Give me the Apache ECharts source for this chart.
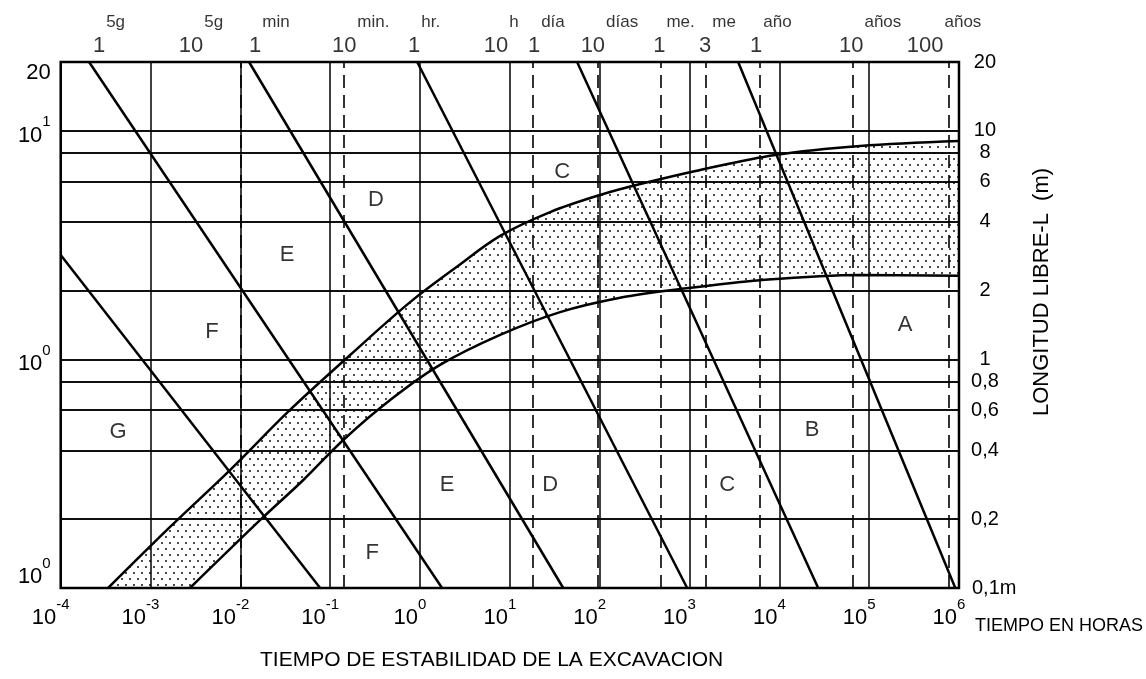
<!DOCTYPE html>
<html><head><meta charset="utf-8">
<script src="https://cdn.jsdelivr.net/npm/echarts@6/dist/echarts.min.js"></script>
<style>html,body{margin:0;padding:0;background:#fff}#c{width:1146px;height:679px}</style>
</head><body><div id="c"></div>
<script>
const FONT = '"Liberation Sans", Arial, sans-serif';

// ---------- data ----------
const xDecades = [1e-4, 1e-3, 1e-2, 1e-1, 1, 10, 100, 1e3, 1e4, 1e5, 1e6];
const xExponents = ['-4', '-3', '-2', '-1', '0', '1', '2', '3', '4', '5', '6'];
const yTickValues = [0.1, 1, 10, 20];
const yTickTexts = ['10|0', '10|0', '10|1', '20|'];
const gridLengths = [10, 8, 6, 4, 2, 1, 0.8, 0.6, 0.4, 0.2];
const rightLabelValues = [20, 10, 8, 6, 4, 2, 1, 0.8, 0.6, 0.4, 0.2, 0.1];
const rightLabelTexts = ['20', '10', '8', '6', '4', '2', '1', '0,8', '0,6', '0,4', '0,2', '0,1m'];
const dashedTimes = [2.6e-4, 2.9e-3, 0.015, 0.143, 18.2, 96, 484, 1535, 6120, 66400, 777000];
const topLabelTimes = [2.67e-4, 2.82e-3, 0.0146, 0.143, 0.86, 7.0, 18.6, 84, 461, 1496, 5530, 63100, 420000];
const topNumbers = ['1', '10', '1', '10', '1', '10', '1', '10', '1', '3', '1', '10', '100'];
const topUnits = ['5g', '5g', 'min', 'min.', 'hr.', 'h', 'día', 'días', 'me.', 'me', 'año', 'años', 'años'];

// boundary lines between classes (start point / end point)
const diagStartT = [1e-4, 2.07e-4, 0.0125, 0.93, 56.1, 3480];
const diagStartL = [2.86, 20, 20, 20, 20, 20];
const diagEndT = [0.0773, 1.76, 39.3, 942, 27100, 9.1e5];
const diagEndL = [0.1, 0.1, 0.1, 0.1, 0.1, 0.1];

// band limits
const upperT = [3.37e-4, 1.65e-3, 7.67e-3, 0.0357, 0.1667, 0.776, 2.46, 7.8, 28.1, 101, 283, 1316, 9000, 79400, 1e6];
const upperL = [0.1, 0.185, 0.328, 0.601, 1.045, 1.78, 2.51, 3.47, 4.41, 5.24, 5.85, 6.74, 7.84, 8.58, 9.02];
const lowerT = [2.75e-3, 0.01746, 0.0499, 0.139, 0.465, 1.67, 7.8, 36.3, 169, 787, 6120, 79400, 1e6];
const lowerL = [0.1, 0.202, 0.296, 0.443, 0.664, 0.946, 1.28, 1.61, 1.86, 2.03, 2.22, 2.34, 2.32];

// class letters
const letters = ['G', 'F', 'E', 'D', 'C', 'A', 'B', 'C', 'D', 'E', 'F'];
const letterT = [4.35e-4, 4.84e-3, 0.0331, 0.324, 38.2, 2.52e5, 2.32e4, 2630, 28.1, 2.0, 0.293];
const letterL = [0.48, 1.32, 2.86, 4.98, 6.6, 1.41, 0.49, 0.282, 0.282, 0.282, 0.142];

// ---------- helpers ----------
const mctx = document.createElement('canvas').getContext('2d');
function textW(s, size) { mctx.font = size + 'px ' + FONT; return mctx.measureText(s).width; }

const pc = document.createElement('canvas');
pc.width = 8; pc.height = 12;
const pg = pc.getContext('2d');
pg.fillStyle = '#111';
pg.beginPath(); pg.arc(2, 3, 1.0, 0, Math.PI * 2); pg.fill();
pg.beginPath(); pg.arc(6, 9, 1.0, 0, Math.PI * 2); pg.fill();

const supRich = {
  b: { fontSize: 22, padding: [10, 0, 0, 0], fontFamily: FONT, color: '#000' },
  s: { fontSize: 15, verticalAlign: 'top', fontFamily: FONT, color: '#000' },
  p: { fontSize: 22, fontFamily: FONT, color: '#000' }
};

function yLabel(v) {
  let best = 0;
  yTickValues.forEach((t, i) => { if (Math.abs(Math.log10(t) - Math.log10(v)) < 1e-6) best = i; });
  const parts = yTickTexts[best].split('|');
  return parts[1] ? '{b|' + parts[0] + '}{s|' + parts[1] + '}' : '{p|' + parts[0] + '}';
}
function xLabel(v) {
  let idx = 0;
  xDecades.forEach((t, i) => { if (Math.abs(Math.log10(t) - Math.log10(v)) < 1e-6) idx = i; });
  return '{b|10}{s|' + xExponents[idx] + '}';
}

const black = '#000';
const markData = [];
gridLengths.forEach(v => markData.push({ yAxis: v, lineStyle: { type: 'solid', width: 1.5, color: black } }));
dashedTimes.forEach(t => markData.push({ xAxis: t, lineStyle: { type: [13, 7], width: 1.6, color: black } }));
rightLabelValues.forEach((v, i) => {
  const last = rightLabelTexts[i].length > 3;
  markData.push({
    yAxis: v,
    lineStyle: { width: 1.5, color: black, type: 'solid' },
    label: {
      show: true, position: 'end', formatter: rightLabelTexts[i],
      align: last ? 'left' : 'center', distance: last ? 13 : 26,
      fontSize: 20, fontFamily: FONT, color: black
    }
  });
});

const series = [];
series.push({
  type: 'line', name: 'upper', data: upperT.map((t, i) => [t, upperL[i]]),
  smooth: 0.35, symbol: 'none', z: 1,
  lineStyle: { color: black, width: 2.5 },
  areaStyle: { color: { image: pc, repeat: 'repeat' }, opacity: 1, origin: 'start' }
});
series.push({
  type: 'line', name: 'lower', data: lowerT.map((t, i) => [t, lowerL[i]]),
  smooth: 0.35, symbol: 'none', z: 1,
  lineStyle: { color: black, width: 2.5 },
  areaStyle: { color: '#fff', opacity: 1, origin: 'start' }
});
series.push({
  type: 'line', name: 'grid', data: [], z: 2, symbol: 'none',
  markLine: { silent: true, symbol: 'none', animation: false, label: { show: false }, data: markData }
});
diagStartT.forEach((t, i) => {
  series.push({
    type: 'line', data: [[t, diagStartL[i]], [diagEndT[i], diagEndL[i]]],
    symbol: 'none', z: 3, lineStyle: { color: black, width: 2.5 }
  });
});
series.push({
  type: 'scatter', z: 4, symbolSize: 1, itemStyle: { color: 'rgba(0,0,0,0)' },
  data: letterT.map((t, i) => ({ value: [t, letterL[i]], label: { formatter: letters[i] } })),
  label: { show: true, position: 'inside', fontSize: 22, fontFamily: FONT, color: black }
});
series.push({
  type: 'scatter', z: 4, symbolSize: 1, clip: false, itemStyle: { color: 'rgba(0,0,0,0)' },
  data: topLabelTimes.map((t, i) => ({ value: [t, 20], label: { formatter: topNumbers[i] } })),
  label: { show: true, position: 'top', distance: 5, fontSize: 22, fontFamily: FONT, color: black }
});
series.push({
  type: 'scatter', z: 4, symbolSize: 1, clip: false, itemStyle: { color: 'rgba(0,0,0,0)' },
  data: topLabelTimes.map((t, i) => ({
    value: [t, 20],
    label: { formatter: topUnits[i], offset: [textW(topNumbers[i], 22) / 2 + 1 + textW(topUnits[i], 17) / 2, -26] }
  })),
  label: { show: true, position: 'top', distance: 5, fontSize: 17, fontFamily: FONT, color: black }
});

const option = {
  animation: false,
  backgroundColor: '#fff',
  textStyle: { fontFamily: FONT, color: black },
  title: {
    text: 'TIEMPO DE ESTABILIDAD DE LA EXCAVACION', left: 260, top: 650, padding: 0,
    textStyle: { fontSize: 21, fontWeight: 'normal', fontFamily: FONT, color: black }
  },
  grid: { left: 60.7, right: 187, top: 62, bottom: 91, show: true, borderColor: black, borderWidth: 2.5, z: 10, backgroundColor: 'rgba(0,0,0,0)' },
  xAxis: {
    type: 'log', logBase: 10, min: 1e-4, max: 1e6, interval: 1, z: 3,
    axisLine: { show: false }, axisTick: { show: false },
    splitLine: { show: true, lineStyle: { color: black, width: 1.5 } },
    axisLabel: { margin: 9, formatter: xLabel, rich: supRich, padding: [0, 20, 0, 0], showMinLabel: true, showMaxLabel: true },
    name: 'TIEMPO EN HORAS', nameLocation: 'end', nameGap: 16,
    nameTextStyle: { fontSize: 18, fontFamily: FONT, color: black, verticalAlign: 'top', align: 'left', padding: [29, 0, 0, 0] }
  },
  yAxis: [{
    type: 'log', logBase: 10, min: 0.1, max: 20, interval: 1,
    axisLine: { show: false }, axisTick: { show: false }, splitLine: { show: false },
    axisLabel: { margin: 10, formatter: yLabel, rich: supRich, showMinLabel: true, showMaxLabel: true,
      verticalAlignMinLabel: 'bottom', verticalAlignMaxLabel: 'top' }
  }, {
    type: 'log', logBase: 10, min: 0.1, max: 20, position: 'right',
    axisLine: { show: false }, axisTick: { show: false }, splitLine: { show: false }, axisLabel: { show: false },
    name: 'LONGITUD LIBRE-L  (m)', nameLocation: 'middle', nameRotate: 90, nameGap: 72,
    nameTextStyle: { fontSize: 22, fontFamily: FONT, color: black, padding: [0, 0, 0, 66] }
  }],
  series: series
};
const chart = echarts.init(document.getElementById('c'), null, { renderer: 'canvas' });
chart.setOption(option);
</script></body></html>
